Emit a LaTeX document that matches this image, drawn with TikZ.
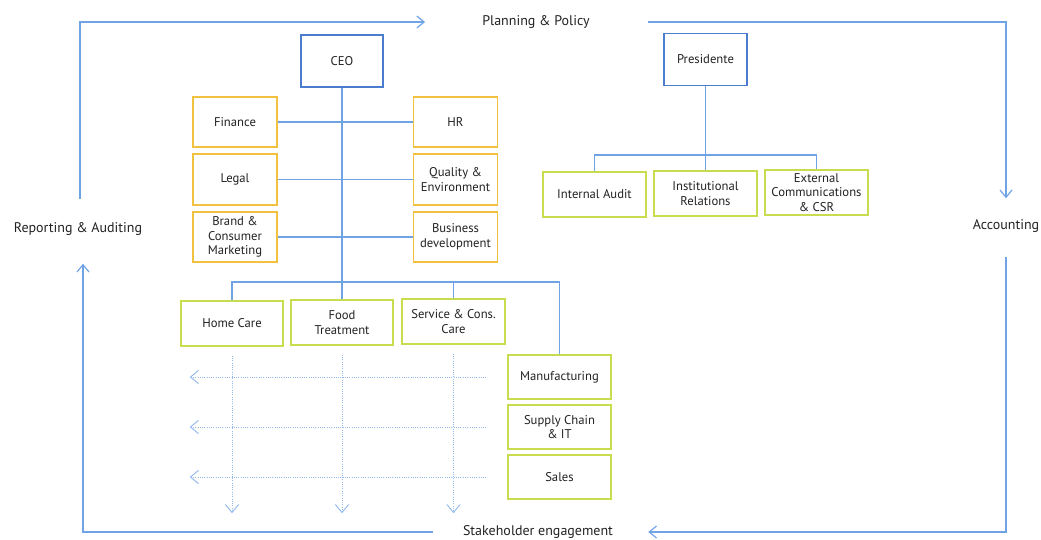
\documentclass[tikz,border=0pt]{standalone}
\usepackage{fontspec}
\setmainfont{PT Sans}
\usetikzlibrary{arrows.meta,calc}
\definecolor{LineBlue}{HTML}{6FA3E6}
\definecolor{BossBlue}{HTML}{4A7DD0}
\definecolor{StaffGold}{HTML}{F2C140}
\definecolor{UnitGreen}{HTML}{C8DC4E}
\definecolor{Ink}{HTML}{222222}

\begin{document}
\begin{tikzpicture}[x=0.75pt,y=-0.75pt,
    every node/.style={font=\fontsize{9.5}{11}\selectfont,text=Ink},
    boss/.style={draw=BossBlue,line width=1.3pt,fill=white,minimum width=62pt,minimum height=39pt},
    staff/.style={draw=StaffGold,line width=1.3pt,fill=white,align=center,minimum width=63pt,minimum height=38pt,inner sep=1pt},
    unit/.style={draw=UnitGreen,line width=1.3pt,fill=white,align=center,minimum width=77pt,minimum height=33.5pt,inner sep=1pt},
    tie/.style={LineBlue,line width=0.9pt},
    loopline/.style={LineBlue,line width=0.9pt,-{Straight Barb[length=5.5pt,width=9pt]}},
    dotline/.style={LineBlue!75,line width=0.7pt,densely dotted,-{Straight Barb[length=6pt,width=10pt]}},
    flowlabel/.style={inner sep=0pt,font=\fontsize{10.5}{12}\selectfont}]
    \useasboundingbox (0,0) rectangle (1041,539);

    % heads
    \node[boss] (ceo) at (342,61) {CEO};
    \node[boss] (pres) at (705.5,59.5) {Presidente};

    % staff functions round the CEO line
    \node[staff] (finance) at (235,122) {Finance};
    \node[staff] (legal) at (235,179.5) {Legal};
    \node[staff] (brand) at (235,237) {Brand \&\\Consumer\\Marketing};
    \node[staff] (hr) at (455.5,122) {HR};
    \node[staff] (quality) at (455.5,179.5) {Quality \&\\Environment};
    \node[staff] (bizdev) at (455.5,237) {Business\\development};

    % business units
    \node[unit] (homecare) at (232,323.5) {Home Care};
    \node[unit] (food) at (342,322.5) {Food\\Treatment};
    \node[unit] (service) at (453.5,321.5) {Service \& Cons.\\Care};
    \node[unit] (manuf) at (559.5,377) {Manufacturing};
    \node[unit] (supply) at (559.5,427) {Supply Chain\\\& IT};
    \node[unit] (sales) at (559.5,477) {Sales};

    % presidente staff
    \node[unit] (audit) at (594.5,194.5) {Internal Audit};
    \node[unit] (instrel) at (705.5,193.5) {Institutional\\Relations};
    \node[unit] (extcomm) at (816.5,192.5) {External\\Communications\\\& CSR};

    % cycle labels
    \node[flowlabel] (planning) at (536,22) {Planning \& Policy};
    \node[flowlabel] (accounting) at (1006,226) {Accounting};
    \node[flowlabel] (stakeholder) at (538,532) {Stakeholder engagement};
    \node[flowlabel] (reporting) at (78,229) {Reporting \& Auditing};

    % tree lines
    \coordinate (bus) at (342,282);
    \coordinate (pbus) at (705,155);
    \draw[tie] (ceo) -- (food);
    \draw[tie] (finance) -- (hr);
    \draw[tie] (legal) -- (quality);
    \draw[tie] (brand) -- (bizdev);
    \draw[tie] (homecare.north) -- (homecare.north |- bus) -| (manuf.north);
    \draw[tie] (service.north) -- (service.north |- bus);
    \draw[tie] (pres) -- (instrel);
    \draw[tie] (audit.north) -- (audit.north |- pbus) -| (extcomm.north);

    % matrix of functions and units
    \foreach \row in {manuf,supply,sales} {
      \draw[dotline] ($(\row.west)+(-21,0)$) -- ($(homecare.west |- \row.west)+(10,0)$);
    }
    \foreach \col in {homecare,food,service} {
      \draw[dotline] ($(\col.south)+(0,9)$) -- ($(\col.south |- sales.south)+(0,13)$);
    }

    % management cycle
    \draw[loopline] ($(reporting.north)+(2,-23)$) |- ($(planning.west)+(-57,0)$);
    \draw[loopline] ($(planning.east)+(58,0)$) -| ($(accounting.north)+(0,-21)$);
    \draw[loopline] ($(accounting.south)+(0,24)$) |- ($(stakeholder.east)+(35,0)$);
    \draw[loopline] ($(stakeholder.west)+(-30,0)$) -| ($(reporting.south)+(5,28)$);
  \end{tikzpicture}
\end{document}
